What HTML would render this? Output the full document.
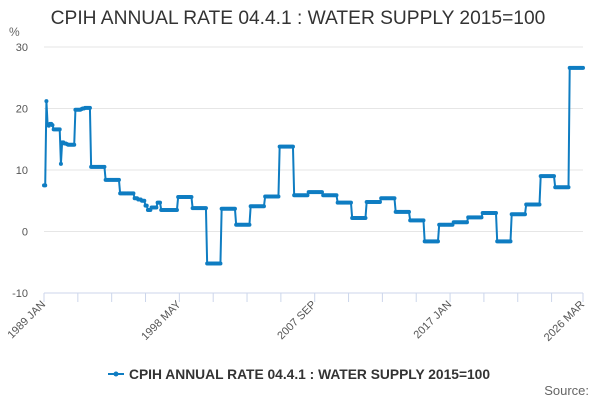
<!DOCTYPE html>
<html><head><meta charset="utf-8">
<style>
body{margin:0;background:#fff;}
svg text{font-family:"Liberation Sans",sans-serif;}
</style></head>
<body>
<svg id="chart" width="600" height="400" xmlns="http://www.w3.org/2000/svg">
<text x="298" y="24" text-anchor="middle" font-size="19.2" fill="#333">CPIH ANNUAL RATE 04.4.1 : WATER SUPPLY 2015=100</text>
<text x="9" y="36" font-size="12" fill="#666">%</text>
<g id="grid"></g><g id="yticks"></g><g id="xticks"></g><g id="series"></g>
<g>
<line x1="108" y1="374" x2="124" y2="374" stroke="#0f7dc2" stroke-width="2"/>
<circle cx="116" cy="374" r="2.5" fill="#0f7dc2"/>
<text x="129" y="379" font-size="13.8" font-weight="bold" fill="#333">CPIH ANNUAL RATE 04.4.1 : WATER SUPPLY 2015=100</text>
</g>
<text x="589" y="395" text-anchor="end" font-size="13" fill="#666">Source:</text>
</svg>
<script>
const yTickValues=[-10,0,10,20,30];
const xTickLabels=["1989 JAN","1998 MAY","2007 SEP","2017 JAN","2026 MAR"];
const xTickIndex=[0,112,224,336,446];
const values=[
7.5,7.5,21.2,17.3,17.2,17.5,17.5,17.3,16.6,16.6,16.6,16.6,
16.6,16.6,11.0,14.5,14.5,14.3,14.3,14.2,14.1,14.1,14.1,14.1,
14.1,14.1,19.8,19.8,19.8,19.8,19.8,19.9,20.0,20.0,20.1,20.1,
20.1,20.1,20.1,10.5,10.5,10.5,10.5,10.5,10.5,10.5,10.5,10.5,
10.5,10.5,10.5,8.4,8.4,8.4,8.4,8.4,8.4,8.4,8.4,8.4,
8.4,8.4,8.4,6.2,6.2,6.2,6.2,6.2,6.2,6.2,6.2,6.2,
6.2,6.2,6.2,5.4,5.4,5.4,5.2,5.2,5.2,5.0,5.0,5.0,
4.2,4.2,3.5,3.5,3.5,3.9,3.9,3.9,3.9,3.9,4.7,4.7,
4.7,3.5,3.5,3.5,3.5,3.5,3.5,3.5,3.5,3.5,3.5,3.5,
3.5,3.5,3.5,5.6,5.6,5.6,5.6,5.6,5.6,5.6,5.6,5.6,
5.6,5.6,5.6,3.8,3.8,3.8,3.8,3.8,3.8,3.8,3.8,3.8,
3.8,3.8,3.8,-5.2,-5.2,-5.2,-5.2,-5.2,-5.2,-5.2,-5.2,-5.2,
-5.2,-5.2,-5.2,3.7,3.7,3.7,3.7,3.7,3.7,3.7,3.7,3.7,
3.7,3.7,3.7,1.1,1.1,1.1,1.1,1.1,1.1,1.1,1.1,1.1,
1.1,1.1,1.1,4.1,4.1,4.1,4.1,4.1,4.1,4.1,4.1,4.1,
4.1,4.1,4.1,5.7,5.7,5.7,5.7,5.7,5.7,5.7,5.7,5.7,
5.7,5.7,5.7,13.8,13.8,13.8,13.8,13.8,13.8,13.8,13.8,13.8,
13.8,13.8,13.8,5.9,5.9,5.9,5.9,5.9,5.9,5.9,5.9,5.9,
5.9,5.9,5.9,6.4,6.4,6.4,6.4,6.4,6.4,6.4,6.4,6.4,
6.4,6.4,6.4,5.9,5.9,5.9,5.9,5.9,5.9,5.9,5.9,5.9,
5.9,5.9,5.9,4.7,4.7,4.7,4.7,4.7,4.7,4.7,4.7,4.7,
4.7,4.7,4.7,2.2,2.2,2.2,2.2,2.2,2.2,2.2,2.2,2.2,
2.2,2.2,2.2,4.8,4.8,4.8,4.8,4.8,4.8,4.8,4.8,4.8,
4.8,4.8,4.8,5.4,5.4,5.4,5.4,5.4,5.4,5.4,5.4,5.4,
5.4,5.4,5.4,3.2,3.2,3.2,3.2,3.2,3.2,3.2,3.2,3.2,
3.2,3.2,3.2,1.8,1.8,1.8,1.8,1.8,1.8,1.8,1.8,1.8,
1.8,1.8,1.8,-1.6,-1.6,-1.6,-1.6,-1.6,-1.6,-1.6,-1.6,-1.6,
-1.6,-1.6,-1.6,1.1,1.1,1.1,1.1,1.1,1.1,1.1,1.1,1.1,
1.1,1.1,1.1,1.5,1.5,1.5,1.5,1.5,1.5,1.5,1.5,1.5,
1.5,1.5,1.5,2.3,2.3,2.3,2.3,2.3,2.3,2.3,2.3,2.3,
2.3,2.3,2.3,3.0,3.0,3.0,3.0,3.0,3.0,3.0,3.0,3.0,
3.0,3.0,3.0,-1.6,-1.6,-1.6,-1.6,-1.6,-1.6,-1.6,-1.6,-1.6,
-1.6,-1.6,-1.6,2.8,2.8,2.8,2.8,2.8,2.8,2.8,2.8,2.8,
2.8,2.8,2.8,4.4,4.4,4.4,4.4,4.4,4.4,4.4,4.4,4.4,
4.4,4.4,4.4,9.0,9.0,9.0,9.0,9.0,9.0,9.0,9.0,9.0,
9.0,9.0,9.0,7.2,7.2,7.2,7.2,7.2,7.2,7.2,7.2,7.2,
7.2,7.2,7.2,26.6,26.6,26.6,26.6,26.6,26.6,26.6,26.6,26.6,
26.6,26.6,26.6
];
const NS="http://www.w3.org/2000/svg";
const X0=44,X1=583,Y30=47,Ym10=293;
function xScale(i){return X0+(X1-X0)*i/(values.length-1);}
function yScale(v){return Ym10+(v+10)*(Y30-Ym10)/40;}
function mk(tag,attrs,parent){const e=document.createElementNS(NS,tag);for(const k in attrs)e.setAttribute(k,attrs[k]);parent.appendChild(e);return e;}
const grid=document.getElementById('grid'),yt=document.getElementById('yticks'),xt=document.getElementById('xticks'),ser=document.getElementById('series');
yTickValues.forEach(v=>{
  const y=yScale(v);
  const gl=mk('line',{x1:X0,x2:X1,y1:y,y2:y,stroke:v===-10?'#ccd6eb':'#e6e6e6','stroke-width':1},grid);
  
  
  const t=mk('text',{x:28,y:y+4,'text-anchor':'end','font-size':11,fill:'#555'},yt);
  t.textContent=v;
  
  
});
for(let k=0;k<=16;k++){
  const x=xScale(Math.min(446,28*k));
  const tk=mk('line',{x1:x,x2:x,y1:Ym10,y2:Ym10+9,stroke:'#ccd6eb'},xt);
  
  
}
xTickLabels.forEach((lab,j)=>{
  const x=xScale(xTickIndex[j]);
  const t=mk('text',{x:x+2,y:Ym10+12,'text-anchor':'end','font-size':11,fill:'#555',transform:`rotate(-45 ${x+2} ${Ym10+12})`},xt);
  t.textContent=lab;
  
  
});
const d=values.map((v,i)=>(i?'L':'M')+xScale(i).toFixed(2)+' '+yScale(v).toFixed(2)).join(' ');
const p=mk('path',{d:d,fill:'none',stroke:'#0f7dc2','stroke-width':2,'stroke-linejoin':'round'},ser);


values.forEach((v,i)=>{
  const c=mk('circle',{cx:xScale(i),cy:yScale(v),r:2,fill:'#0f7dc2'},ser);
  
  
});
</script>
</body></html>
